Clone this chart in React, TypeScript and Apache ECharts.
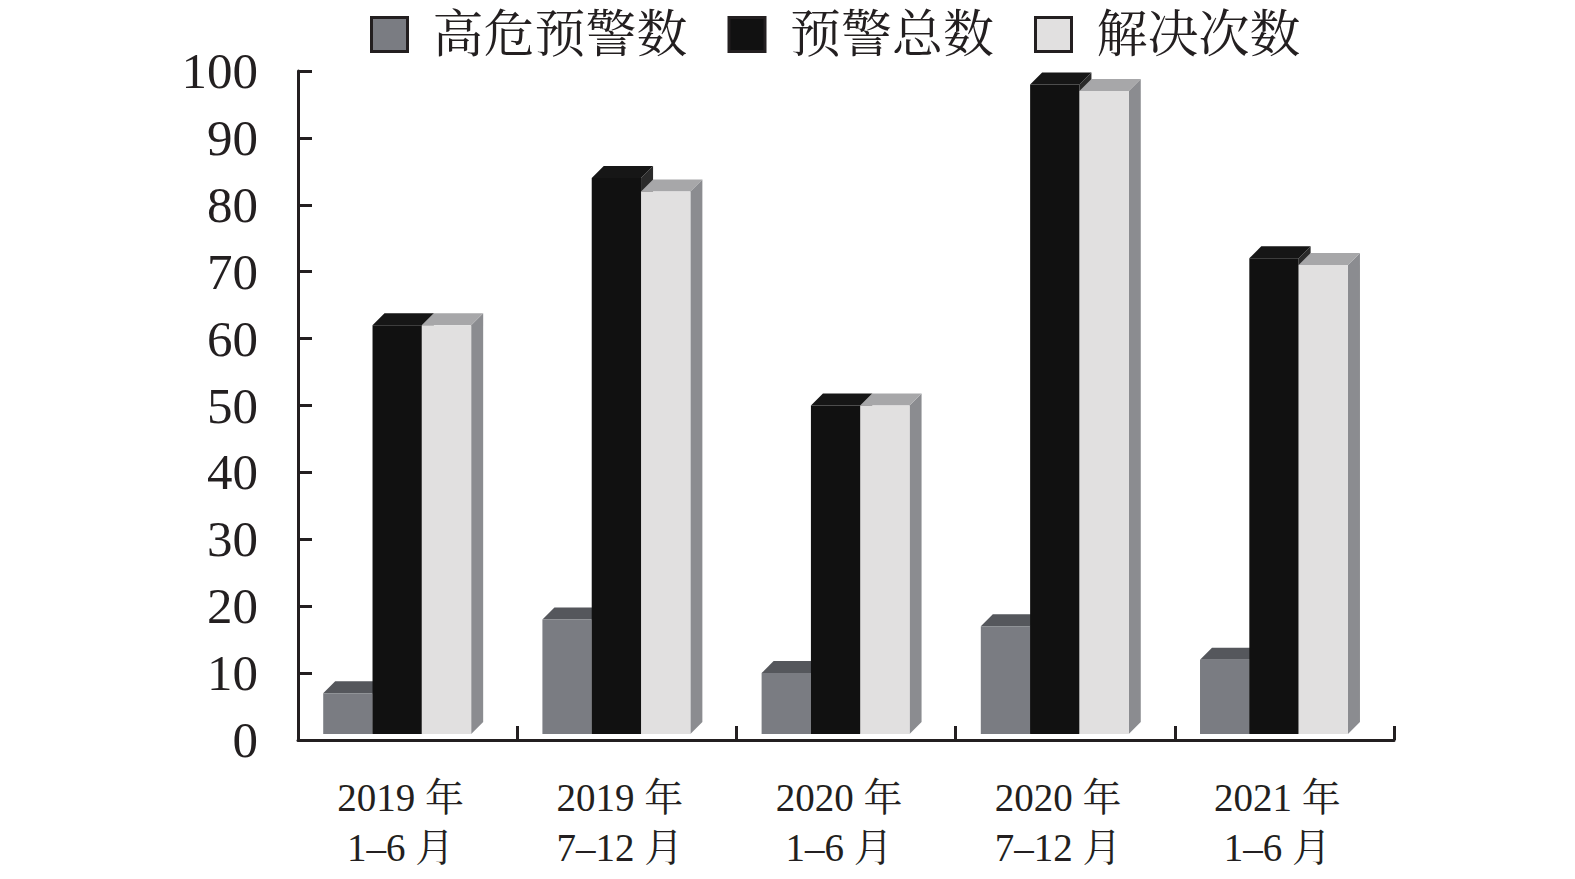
import React, { useEffect, useRef } from "react";
import * as echarts from "echarts";

const categories = ["2019 年\n1–6 月", "2019 年\n7–12 月", "2020 年\n1–6 月", "2020 年\n7–12 月", "2021 年\n1–6 月"];
const seriesNames = ["高危预警数", "预警总数", "解决次数"];
const highRisk = [7, 18, 10, 17, 12];
const totalWarnings = [62, 84, 50, 98, 72];
const resolved = [62, 82, 50, 97, 71];
const yTicks = { min: 0, max: 100, interval: 10 };

const palette = [
  { front: "#7a7c82", top: "#55575c", side: "#5c5e63" },
  { front: "#111111", top: "#161616", side: "#2a2a2a" },
  { front: "#e1e0e0", top: "#a7a7a9", side: "#8b8c90" },
];

const FONT = "'Liberation Serif','Times New Roman','Noto Serif CJK SC','Noto Sans CJK SC',serif";

function makeRender(idx: number) {
  return (params: any, api: any) => {
    const cat = api.value(0);
    const val = api.value(1);
    const top = api.coord([cat, val]);
    const base = api.coord([cat, 0]);
    const band = api.size([1, 0])[0];
    const bw = band * 0.225;
    const L = top[0] - band * 0.385 + idx * bw;
    const R = L + bw;
    const yTop = top[1];
    const yBot = base[1] - 6;
    const dx = 12;
    const dy = 12;
    const c = palette[idx];
    return {
      type: "group",
      children: [
        {
          type: "polygon",
          shape: { points: [[R, yTop], [R + dx, yTop - dy], [R + dx, yBot - dy], [R, yBot]] },
          style: { fill: c.side },
        },
        {
          type: "polygon",
          shape: { points: [[L, yTop], [L + dx, yTop - dy], [R + dx, yTop - dy], [R, yTop]] },
          style: { fill: c.top },
        },
        {
          type: "rect",
          shape: { x: L, y: yTop, width: bw, height: yBot - yTop },
          style: { fill: c.front },
        },
      ],
    };
  };
}

export default function App() {
  const ref = useRef<HTMLDivElement>(null);
  useEffect(() => {
    const chart = echarts.init(ref.current!, null, { renderer: "svg" });
    const dataSets = [highRisk, totalWarnings, resolved];
    chart.setOption({
      animation: false,
      backgroundColor: "#ffffff",
      legend: {
        left: 365,
        top: 4,
        itemWidth: 36,
        itemHeight: 34,
        itemGap: 40,
        icon: "rect",
        itemStyle: { borderColor: "#231f20", borderWidth: 3 },
        textStyle: { fontSize: 51, lineHeight: 50, color: "#231f20", fontFamily: FONT, padding: [0, 0, 0, 20] },
        data: seriesNames,
      },
      grid: { left: 298, right: 181, top: 71, bottom: 139, containLabel: false },
      xAxis: {
        type: "category",
        data: categories,
        boundaryGap: true,
        axisLine: { show: true, lineStyle: { color: "#231f20", width: 3 } },
        axisTick: { show: true, inside: true, length: 14, alignWithLabel: false, lineStyle: { color: "#231f20", width: 3 } },
        axisLabel: { fontSize: 39, lineHeight: 50, color: "#231f20", fontFamily: FONT, margin: 32, interval: 0, padding: [0, 14, 0, 0] },
        splitLine: { show: false },
      },
      yAxis: {
        type: "value",
        min: yTicks.min,
        max: yTicks.max,
        interval: yTicks.interval,
        axisLine: { show: true, lineStyle: { color: "#231f20", width: 3 } },
        axisTick: { show: true, inside: true, length: 14, lineStyle: { color: "#231f20", width: 3 } },
        axisLabel: { fontSize: 51, color: "#231f20", fontFamily: FONT, margin: 40 },
        splitLine: { show: false },
      },
      series: dataSets.map((d, i) => ({
        type: "custom",
        name: seriesNames[i],
        renderItem: makeRender(i),
        itemStyle: { color: palette[i].front },
        encode: { x: 0, y: 1 },
        data: d.map((v, j) => [j, v]),
        z: 2 + i,
      })),
    });
    return () => chart.dispose();
  }, []);
  return <div ref={ref} style={{ position: "absolute", left: 0, top: 0, width: 1575, height: 879 }} />;
}
